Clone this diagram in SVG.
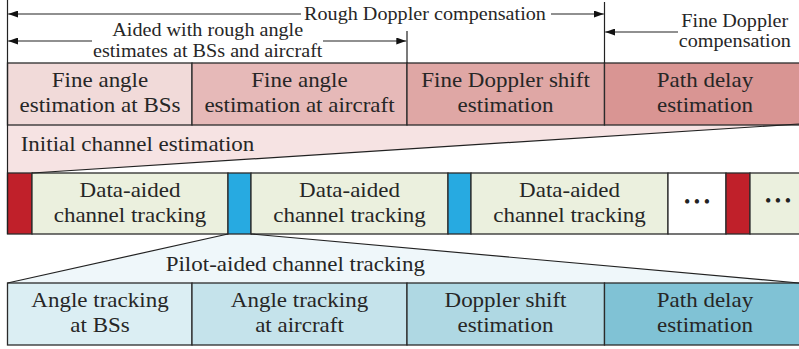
<svg xmlns="http://www.w3.org/2000/svg" width="799" height="349" viewBox="0 0 799 349">
<defs>
<style>
.t{font-family:"Liberation Serif","Times New Roman",serif;fill:#262626;text-anchor:middle}
.b{font-size:21px}
.s{font-size:18px}
.bx{stroke:#2b2b2b;stroke-width:1.3}
.ln{stroke:#222;stroke-width:1.2;fill:none}
</style>
<marker id="ah" viewBox="0 0 10 7" refX="10" refY="3.5" markerWidth="10" markerHeight="7" markerUnits="userSpaceOnUse" orient="auto">
<path d="M0,0 L10,3.5 L0,7 z" fill="#111"/>
</marker>
</defs>
<rect width="799" height="349" fill="#fff"/>

<g id="initial-channel-estimation">
<polygon points="7.5,125 799,125 799,124 32,173 7.5,173" fill="#f6e3e3"/>
<text class="t b" transform="translate(20.7,0) scale(1.095,1)" x="0" y="151.5" style="text-anchor:start">Initial channel estimation</text>
</g>

<g id="pilot-aided-channel-tracking">
<polygon points="228,234 251,234 799,283 7.5,283" fill="#eff7fa"/>
<text class="t b" transform="translate(165.7,0) scale(1.095,1)" x="0" y="271.5" style="text-anchor:start">Pilot-aided channel tracking</text>
</g>

<g id="fine-angle-bss">
<rect class="bx" x="7.5" y="63" width="184.5" height="62" fill="#f1dad9"/>
<text class="t b" transform="translate(100,0) scale(1.095,1)" x="0" y="87.5">Fine angle</text>
<text class="t b" transform="translate(100,0) scale(1.095,1)" x="0" y="112">estimation at BSs</text>
</g>
<g id="fine-angle-aircraft">
<rect class="bx" x="192" y="63" width="215" height="62" fill="#e6b9b8"/>
<text class="t b" transform="translate(299.5,0) scale(1.095,1)" x="0" y="87.5">Fine angle</text>
<text class="t b" transform="translate(299.5,0) scale(1.095,1)" x="0" y="112">estimation at aircraft</text>
</g>
<g id="fine-doppler">
<rect class="bx" x="407" y="63" width="197.5" height="62" fill="#dfa7a5"/>
<text class="t b" transform="translate(505.5,0) scale(1.095,1)" x="0" y="87.5">Fine Doppler shift</text>
<text class="t b" transform="translate(505.5,0) scale(1.095,1)" x="0" y="112">estimation</text>
</g>
<g id="path-delay-top">
<rect class="bx" x="604.5" y="63" width="200" height="62" fill="#d99593"/>
<text class="t b" transform="translate(705,0) scale(1.095,1)" x="0" y="87.5">Path delay</text>
<text class="t b" transform="translate(705,0) scale(1.095,1)" x="0" y="112">estimation</text>
</g>

<g id="pilot-1"><rect class="bx" x="7.5" y="173" width="24.5" height="61" fill="#c0202a"/></g>
<g id="data-aided-1">
<rect class="bx" x="32" y="173" width="196" height="61" fill="#ebf0de"/>
<text class="t b" transform="translate(130,0) scale(1.095,1)" x="0" y="197.5">Data-aided</text>
<text class="t b" transform="translate(130,0) scale(1.095,1)" x="0" y="222">channel tracking</text>
</g>
<g id="pilot-2"><rect class="bx" x="228" y="173" width="23" height="61" fill="#27aae1"/></g>
<g id="data-aided-2">
<rect class="bx" x="251" y="173" width="197" height="61" fill="#ebf0de"/>
<text class="t b" transform="translate(349.5,0) scale(1.095,1)" x="0" y="197.5">Data-aided</text>
<text class="t b" transform="translate(349.5,0) scale(1.095,1)" x="0" y="222">channel tracking</text>
</g>
<g id="pilot-3"><rect class="bx" x="448" y="173" width="23" height="61" fill="#27aae1"/></g>
<g id="data-aided-3">
<rect class="bx" x="471" y="173" width="197" height="61" fill="#ebf0de"/>
<text class="t b" transform="translate(569.5,0) scale(1.095,1)" x="0" y="197.5">Data-aided</text>
<text class="t b" transform="translate(569.5,0) scale(1.095,1)" x="0" y="222">channel tracking</text>
</g>
<g id="ellipsis-1">
<rect class="bx" x="668" y="173" width="58" height="61" fill="#fff"/>
<text class="t" x="698.8" y="207.5" style="font-size:18px;letter-spacing:3.6px;fill:#222">•••</text>
</g>
<g id="pilot-4"><rect class="bx" x="726" y="173" width="24" height="61" fill="#c0202a"/></g>
<g id="data-aided-4">
<rect class="bx" x="750" y="173" width="60" height="61" fill="#ebf0de"/>
<text class="t" x="779.8" y="206.5" style="font-size:18px;letter-spacing:3.6px;fill:#222">•••</text>
</g>

<g id="angle-tracking-bss">
<rect class="bx" x="7.5" y="283" width="184.5" height="62" fill="#dbeef3"/>
<text class="t b" transform="translate(100,0) scale(1.095,1)" x="0" y="307.5">Angle tracking</text>
<text class="t b" transform="translate(100,0) scale(1.095,1)" x="0" y="332">at BSs</text>
</g>
<g id="angle-tracking-aircraft">
<rect class="bx" x="192" y="283" width="215" height="62" fill="#c5e3eb"/>
<text class="t b" transform="translate(299.5,0) scale(1.095,1)" x="0" y="307.5">Angle tracking</text>
<text class="t b" transform="translate(299.5,0) scale(1.095,1)" x="0" y="332">at aircraft</text>
</g>
<g id="doppler-shift">
<rect class="bx" x="407" y="283" width="197.5" height="62" fill="#afd8e3"/>
<text class="t b" transform="translate(505.5,0) scale(1.095,1)" x="0" y="307.5">Doppler shift</text>
<text class="t b" transform="translate(505.5,0) scale(1.095,1)" x="0" y="332">estimation</text>
</g>
<g id="path-delay-bottom">
<rect class="bx" x="604.5" y="283" width="200" height="62" fill="#80c2d5"/>
<text class="t b" transform="translate(705,0) scale(1.095,1)" x="0" y="307.5">Path delay</text>
<text class="t b" transform="translate(705,0) scale(1.095,1)" x="0" y="332">estimation</text>
</g>

<g id="connectors">
<line class="ln" x1="7.5" y1="0" x2="7.5" y2="234"/>
<line class="ln" x1="604.5" y1="2" x2="604.5" y2="63"/>
<line class="ln" x1="407" y1="31" x2="407" y2="63"/>
<line class="ln" x1="32" y1="173" x2="799" y2="124"/>
<line class="ln" x1="228" y1="234" x2="7.5" y2="283"/>
<line class="ln" x1="251" y1="234" x2="799" y2="283"/>
<line class="ln" x1="301" y1="14" x2="8.2" y2="14" marker-end="url(#ah)"/>
<line class="ln" x1="551" y1="14" x2="603.8" y2="14" marker-end="url(#ah)"/>
<line class="ln" x1="92" y1="41" x2="8.2" y2="41" marker-end="url(#ah)"/>
<line class="ln" x1="323" y1="41" x2="406.3" y2="41" marker-end="url(#ah)"/>
<line class="ln" x1="678" y1="32" x2="605.2" y2="32" marker-end="url(#ah)"/>
</g>

<g id="labels">
<text class="t s" transform="translate(425,0) scale(1.12,1)" x="0" y="20">Rough Doppler compensation</text>
<text class="t s" transform="translate(207.7,0) scale(1.12,1)" x="0" y="36.5">Aided with rough angle</text>
<text class="t s" transform="translate(207.7,0) scale(1.12,1)" x="0" y="57.5">estimates at BSs and aircraft</text>
<text class="t s" transform="translate(734.8,0) scale(1.12,1)" x="0" y="27">Fine Doppler</text>
<text class="t s" transform="translate(734.8,0) scale(1.12,1)" x="0" y="47">compensation</text>
</g>
</svg>
